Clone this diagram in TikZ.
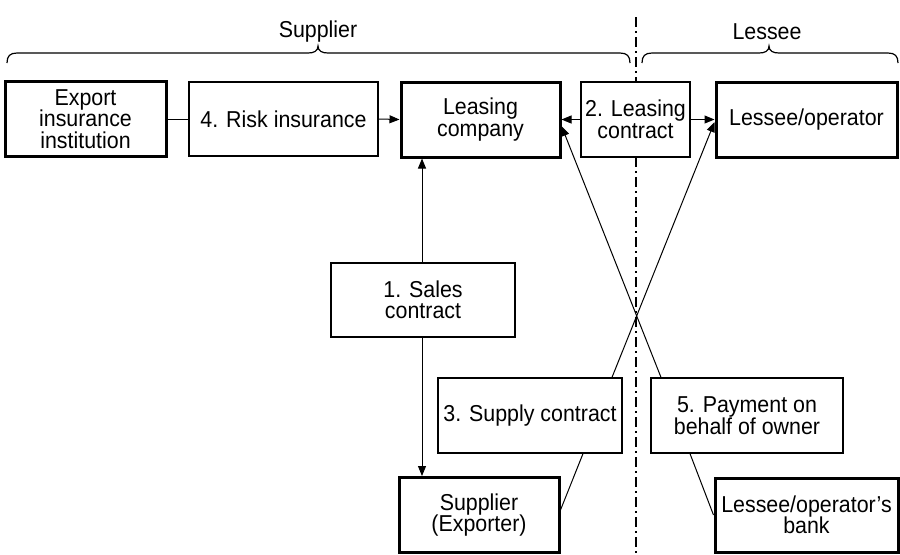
\documentclass[tikz,border=0pt]{standalone}
\usepackage{fontspec}
\setmainfont{Liberation Sans}[FakeStretch=0.93]
\usetikzlibrary{arrows.meta}
\begin{document}
\begin{tikzpicture}[x=0.5pt,y=-0.5pt,
  every node/.style={font=\fontsize{11.5}{10.75}\selectfont, align=center, inner sep=0pt},
  party/.style={draw, fill=white, line width=1.5pt},
  deal/.style={draw, fill=white, line width=0.65pt},
  link/.style={line width=0.5pt},
  arr/.style={link, -{Triangle[length=5pt,width=4pt]}},
  brace/.style={line width=0.6pt},
  divider/.style={line width=0.6pt, dash pattern=on 5pt off 2pt on 1pt off 2pt}]
\useasboundingbox (0,0) rectangle (900,554);

% boundary between the two sides
\coordinate (dtop) at (636,17);
\coordinate (dbot) at (636,554);
\draw[divider] (dtop) -- (dbot);

% group braces
\draw[brace] (7,63) .. controls (7,56) and (10,53) .. (17,53) -- (308,53)
  .. controls (314,53) and (318,51) .. (318,46)
  .. controls (318,51) and (322,53) .. (328,53) -- (620,53)
  .. controls (627,53) and (630,56) .. (630,63);
\draw[brace] (642,63) .. controls (642,56) and (645,53) .. (652,53) -- (759,53)
  .. controls (765,53) and (769,51) .. (769,46)
  .. controls (769,51) and (773,53) .. (779,53) -- (888,53)
  .. controls (895,53) and (898,56) .. (898,63);
\node (lsup) at (318,32) {Supplier};
\node (lles) at (767,32) {Lessee};

% parties
\node[party, minimum width=80.5pt, minimum height=37.5pt] (exp) at (85.5,119) {Export\\insurance\\institution};
\node[party, minimum width=79.5pt, minimum height=37.5pt] (lc) at (480.5,119.5) {Leasing\\company};
\node[party, minimum width=90.5pt, minimum height=37.5pt] (les) at (806.5,119.5) {Lessee/operator};
\node[party, minimum width=80pt, minimum height=37.5pt] (sup) at (479,515) {Supplier\\(Exporter)};
\node[party, minimum width=91.5pt, minimum height=37pt] (bank) at (806.5,515) {Lessee/operator’s\\bank};

% contracts
\node[deal, minimum width=94.5pt, minimum height=37pt] (risk) at (283.5,119) {4. Risk insurance};
\node[deal, minimum width=54.5pt, minimum height=37.5pt] (lcon) at (635.5,119.5) {2. Leasing\\contract};
\node[deal, minimum width=92pt, minimum height=37pt] (sales) at (423,300) {1. Sales\\contract};
\node[deal, minimum width=92pt, minimum height=37.5pt] (supc) at (530,415.5) {3. Supply contract};
\node[deal, minimum width=96pt, minimum height=37.5pt] (pay) at (747,415.5) {5. Payment on\\behalf of owner};

% connectors
\draw[link] (exp.east) -- (risk.west);
\draw[arr] (risk.east) -- (lc.west);
\draw[arr] (lcon.west) -- (lc.east);
\draw[arr] (lcon.east) -- (les.west);
\draw[arr] ([xshift=-0.5pt]sales.north) -- ([xshift=-0.5pt]sales.north |- lc.south);
\draw[arr] ([xshift=-0.5pt]sales.south) -- ([xshift=-0.5pt]sales.south |- sup.north);
\draw[link] ([yshift=2.5pt]sup.east) -- ([xshift=26.5pt]supc.south);
\draw[arr] ([xshift=41pt]supc.north) -- ([yshift=-1.25pt]les.west);
\draw[link] (bank.west) -- ([xshift=-28.5pt]pay.south);
\draw[arr] ([xshift=-43pt]pay.north) -- ([yshift=-3.25pt]lc.east);
\end{tikzpicture}
\end{document}
